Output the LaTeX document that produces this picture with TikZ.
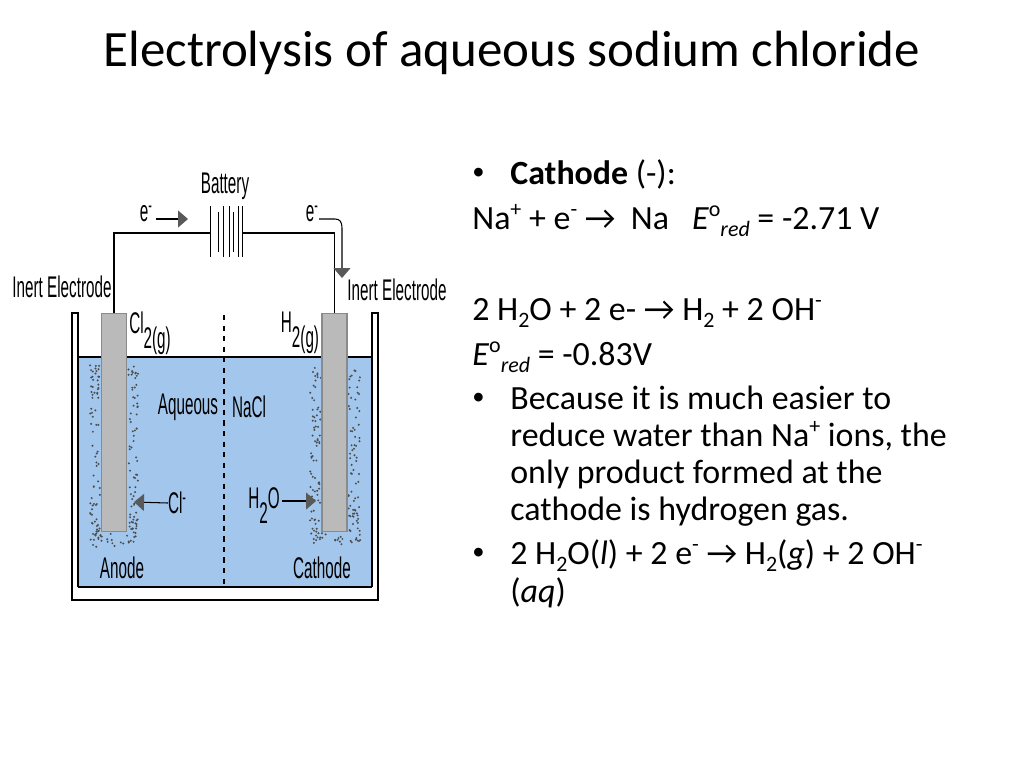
\documentclass[tikz,border=0pt]{standalone}
\usepackage{fontspec}
\setmainfont{Carlito}
\newfontfamily\labelfont{Liberation Sans}
\usetikzlibrary{arrows.meta}
\definecolor{waterblue}{HTML}{A3C6EC}
\definecolor{rodgray}{HTML}{BABABA}
\definecolor{rodedge}{HTML}{8A8A8A}
\newcommand{\up}[1]{\raisebox{.36em}{\fontsize{12.5}{12.5}\selectfont #1}}
\newcommand{\dn}[1]{\raisebox{-.22em}{\fontsize{12.5}{12.5}\selectfont #1}}
\newcommand{\tagdn}[1]{\raisebox{-.5em}{\fontsize{17}{17}\selectfont #1}}
\newcommand{\tagup}[1]{\raisebox{.3em}{\fontsize{12}{12}\selectfont #1}}
\newcommand{\dotmark}{\raisebox{.12em}{\fontsize{14}{14}\selectfont •}}
\tikzset{
  body/.style={anchor=base west,inner sep=0,font=\fontsize{19.3}{22}\selectfont},
  tag/.style={inner sep=0,transform shape,xscale=.51,font=\labelfont\fontsize{17}{17}\selectfont},
  rod/.style={draw=rodedge,line width=.8pt,fill=rodgray,minimum width=.5cm,minimum height=4.36cm,inner sep=0},
  wire/.style={line width=.6pt},
  flow/.style={line width=.6pt,-{Triangle[length=.2cm,width=.34cm,color=black!65]}}
}
\begin{document}
\begin{tikzpicture}[x=.02cm,y=-.02cm]
\useasboundingbox (0,0) rectangle (1024,768);

\node[inner sep=0,font=\fontsize{29}{32}\selectfont] (title) at (512,53) {Electrolysis of aqueous sodium chloride};

% tank
\fill[waterblue] (78,357) rectangle (371,587);
\draw[line width=1pt] (78,587) -- (78,313) -- (72,313) -- (72,600) -- (378,600) -- (378,313) -- (372,313) -- (372,587);
\draw[line width=1.4pt] (78,587) -- (372,587);
\draw[line width=1.2pt] (78,357) -- (372,357);
\draw[dashed,line width=.8pt] (224,315) -- (224,587);

% bubbles
\pgfmathsetseed{17}
\foreach \xa/\xb in {90/100,128/138,310/321,348/360}{
  \foreach \i in {1,...,75}{
    \pgfmathsetmacro{\px}{\xa+rnd*(\xb-\xa)}
    \pgfmathsetmacro{\py}{362+rnd*178}
    \fill[black!70] (\px,\py) circle (1.1);
  }
}
\foreach \xa/\xb in {90/138,312/362}{
  \foreach \i in {1,...,24}{
    \pgfmathsetmacro{\px}{\xa+rnd*(\xb-\xa)}
    \pgfmathsetmacro{\py}{533+rnd*14}
    \fill[black!70] (\px,\py) circle (1.1);
  }
}

\node[rod] (anode) at (114,422.5) {};
\node[rod] (cathode) at (334.5,422.5) {};

% battery
\coordinate (bl) at (210,233);
\coordinate (br) at (242,233);
\draw[line width=.5pt] (210,206) -- (210,257);
\draw[line width=.5pt] (218,212) -- (218,252);
\draw[line width=.5pt] (223,206) -- (223,257);
\draw[line width=.5pt] (229,206) -- (229,257);
\draw[line width=.5pt] (233,212) -- (233,252);
\draw[line width=.5pt] (238,206) -- (238,257);
\draw[line width=.5pt] (242,206) -- (242,257);
\draw[wire] (anode.north) |- (bl);
\draw[wire] (cathode.north) |- (br);

% labels
\node[tag] (battery) at (225,186) {Battery};
\node[tag] (eleft) at (146,214) {e\tagup{-}};
\node[tag] (eright) at (312,214) {e\tagup{-}};
\node[tag] (inertl) at (62,287) {Inert Electrode};
\node[tag] (inertr) at (397,290) {Inert Electrode};
\node[tag] (cl) at (150,333) {Cl\tagdn{2(g)}};
\node[tag] (h) at (300,333) {H\tagdn{2(g)}};
\node[tag] (aqueous) at (188,407) {Aqueous};
\node[tag] (nacl) at (249,407) {NaCl};
\node[tag] (clion) at (177,503) {Cl\tagup{-}};
\node[tag] (water) at (264,506) {H\tagdn{2}O};
\node[tag] (anodetag) at (122,568) {Anode};
\node[tag] (cathodetag) at (322,568) {Cathode};

% arrows
\coordinate (a1) at (188,219);
\coordinate (a2) at (342,278);
\coordinate (a3) at (134,502);
\coordinate (a4) at (316,501);
\coordinate (a5) at (156,219);
\coordinate (a6) at (319,219);
\draw[flow] (a5) -- (a1);
\draw[flow] (a6) -- (335,219) .. controls (340,219) and (342,222) .. (342,228) -- (a2);
\draw[flow] (clion.west) -- (a3);
\draw[flow] (282,501) -- (a4);

% text
\node[body] (b1) at (472,184) {\dotmark};
\node[body] (t1) at (510,184) {\textbf{Cathode} (-):};
\node[body] (t2) at (472,229) {Na\up{+} + e\up{-} → \ Na \ \ \textit{E}\up{o}\dn{\textit{red}} = -2.71 V};
\node[body] (t3) at (472,320) {2 H\dn{2}O + 2 e- → H\dn{2} + 2 OH\up{-}};
\node[body] (t4) at (472,365) {\textit{E}\up{o}\dn{\textit{red}} = -0.83V};
\node[body] (b2) at (472,409) {\dotmark};
\node[body] (t5) at (510,409) {Because it is much easier to};
\node[body] (t6) at (510,446) {reduce water than Na\up{+} ions, the};
\node[body] (t7) at (510,483) {only product formed at the};
\node[body] (t8) at (510,520) {cathode is hydrogen gas.};
\node[body] (b3) at (472,564) {\dotmark};
\node[body] (t9) at (510,564) {2 H\dn{2}O(\textit{l}) + 2 e\up{-} → H\dn{2}(\textit{g}) + 2 OH\up{-}};
\node[body] (t10) at (510,602) {(\textit{aq})};
\end{tikzpicture}
\end{document}
